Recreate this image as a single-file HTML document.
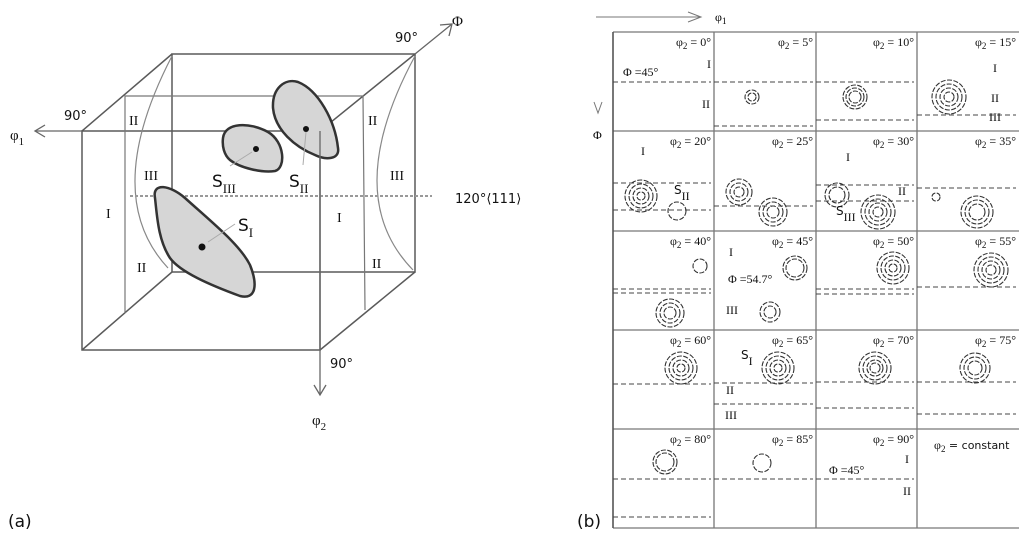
<!DOCTYPE html>
<html><head><meta charset="utf-8"><style>
html,body{margin:0;padding:0;background:#fff}
svg{display:block;font-family:"Liberation Serif",serif}
.s{font-family:"DejaVu Sans","Liberation Sans",sans-serif}
</style></head><body>
<svg id="fig" width="1029" height="534" viewBox="0 0 1029 534" xmlns="http://www.w3.org/2000/svg">
<g id="cube" stroke="#5a5a5a" stroke-width="1.5" fill="none">
  <rect x="82" y="131" width="238" height="219"/>
  <polyline points="172,272 172,54 415,54 415,272 172,272"/>
  <line x1="82" y1="131" x2="172" y2="54"/><line x1="82" y1="350" x2="172" y2="272"/>
  <line x1="320" y1="350" x2="415" y2="272"/><line x1="320" y1="131" x2="415" y2="54"/>
  <polyline points="125,313 125,96 363,96 365,310" stroke="#777" stroke-width="1.2"/>
  <path d="M172,56 Q100,195 168,268" stroke="#888" stroke-width="1.2"/>
  <path d="M415,56 Q340,195 413,270" stroke="#888" stroke-width="1.2"/>
  <line x1="130" y1="196" x2="432" y2="196" stroke="#999" stroke-dasharray="3,2" stroke-width="2"/>
</g>
<g stroke="#333" stroke-width="2.5" fill="#d6d6d6">
  <path d="M155,198 C152,182 170,185 185,198 C215,225 240,245 250,265 C258,285 256,300 240,296 C210,285 180,272 170,258 C158,240 157,215 155,198Z"/>
  <path d="M223,138 C225,122 250,122 268,132 C285,142 286,168 275,171 C262,173 240,168 230,160 C224,155 222,146 223,138Z"/>
  <path d="M273,108 C272,88 285,78 298,82 C318,90 335,120 338,148 C340,160 325,160 315,155 C295,147 275,130 273,108Z"/>
</g>
<g fill="#111"><circle cx="202" cy="247" r="3.5"/><circle cx="256" cy="149" r="3"/><circle cx="306" cy="129" r="3"/></g>
<g stroke="#aaa" stroke-width="1" fill="none"><line x1="208" y1="242" x2="235" y2="224"/><line x1="252" y1="152" x2="230" y2="166"/><line x1="306" y1="132" x2="303" y2="165"/></g>
<g stroke="#666" stroke-width="1.3" fill="none">
  <line x1="82" y1="131" x2="35" y2="131"/><polyline points="45,125 35,131 45,137"/>
  <line x1="320" y1="131" x2="320" y2="395"/><polyline points="314,385 320,395 326,385"/>
  <line x1="415" y1="54" x2="452" y2="24"/><polyline points="440,25 452,24 449,36"/>
</g>
<g font-size="15" fill="#111">
  <text x="10" y="140">φ<tspan font-size="11" dy="5">1</tspan></text>
  <text x="312" y="425">φ<tspan font-size="11" dy="5">2</tspan></text>
  <text x="452" y="26">Φ</text>
  <text class="s" x="64" y="120" font-size="13">90°</text>
  <text class="s" x="395" y="42" font-size="13">90°</text>
  <text class="s" x="330" y="368" font-size="13">90°</text>
  <text class="s" x="455" y="203" font-size="13">120°⟨111⟩</text>
  <text x="129" y="125" font-size="14">II</text><text x="144" y="180" font-size="14">III</text><text x="106" y="218" font-size="14">I</text><text x="137" y="272" font-size="14">II</text>
  <text x="368" y="125" font-size="14">II</text><text x="390" y="180" font-size="14">III</text><text x="337" y="222" font-size="14">I</text><text x="372" y="268" font-size="14">II</text>
  <g class="s" font-size="17"><text x="238" y="231">S<tspan font-family="Liberation Serif" font-size="13" dy="6">I</tspan></text>
  <text x="212" y="187">S<tspan font-family="Liberation Serif" font-size="13" dy="6">III</tspan></text>
  <text x="289" y="187">S<tspan font-family="Liberation Serif" font-size="13" dy="6">II</tspan></text></g>
  <text class="s" x="8" y="527" font-size="17">(a)</text>
  <text class="s" x="577" y="527" font-size="17">(b)</text>
</g>
<g stroke="#777" fill="none" stroke-width="1"><line x1="596" y1="17" x2="700" y2="17"/><polyline points="688,12 701,17 688,22"/><polyline points="594,102 598,113 602,102"/></g>
<text x="715" y="21" font-size="12">φ<tspan font-size="9" dy="3">1</tspan></text>
<text x="593" y="139" font-size="12">Φ</text>
<g id="grid"></g>
</svg>
<script>
var labels=["0°","5°","10°","15°","20°","25°","30°","35°","40°","45°","50°","55°","60°","65°","70°","75°","80°","85°","90°"];
var colX=[613,714,816,917,1019], rowY=[32,131,231,330,429,528];
var circles=[[752,97,[7,4]],[855,97,[12,9,6]],[949,97,[17,13,9,5]],[641,196,[16,12,8,4]],[677,211,[9]],[739,192,[13,9,5]],[773,212,[14,10,6]],[837,195,[12,8]],[878,212,[17,13,9,5]],[936,197,[4]],[977,212,[16,12,8]],[700,266,[7]],[670,313,[14,10,6]],[795,268,[12,9]],[770,312,[10,6]],[893,268,[16,12,8,4]],[991,270,[17,13,9,5]],[681,368,[16,12,8,4]],[778,368,[16,12,8,4]],[875,368,[16,12,8,5]],[975,368,[15,11,7]],[665,462,[12,9]],[762,463,[9]]];
var dashes=[[613,714,82],[714,816,82],[714,816,126],[816,917,82],[816,917,120],[917,1019,115],[613,714,183],[613,714,210],[714,816,206],[816,917,185],[816,917,201],[917,1019,188],[613,714,289],[613,714,293],[816,917,289],[816,917,294],[917,1019,287],[613,714,384],[714,816,383],[714,816,404],[816,917,382],[816,917,408],[917,1019,382],[917,1019,414],[613,714,479],[613,714,517],[714,816,479],[816,917,479]];
var texts=[[707,68,"I"],[623,76,"Φ =45°"],[702,108,"II"],[993,72,"I"],[991,102,"II"],[989,121,"III"],[641,155,"I"],[898,195,"II"],[846,161,"I"],[729,256,"I"],[728,283,"Φ =54.7°"],[726,314,"III"],[726,394,"II"],[725,419,"III"],[905,463,"I"],[829,474,"Φ =45°"],[903,495,"II"]];
var NS="http://www.w3.org/2000/svg";
var g=document.getElementById('grid');
function mk(t,a){var e=document.createElementNS(NS,t);for(var k in a)e.setAttribute(k,a[k]);g.appendChild(e);return e;}
var e;
for(var i=1;i<4;i++){e=mk('line',{x1:colX[i],y1:rowY[0],x2:colX[i],y2:rowY[5],stroke:'#777','stroke-width':1.3});

}
for(var j=0;j<6;j++){e=mk('line',{x1:colX[0],y1:rowY[j],x2:colX[4],y2:rowY[j],stroke:'#777','stroke-width':1.3});

}
e=mk('line',{x1:colX[0],y1:rowY[0],x2:colX[0],y2:rowY[5],stroke:'#555','stroke-width':1.6});


labels.forEach(function(l,k){var c=k%4,r=Math.floor(k/4);
 e=mk('text',{x:colX[c+1]-3,y:rowY[r]+14,'font-size':12,'text-anchor':'end',fill:'#111'});
 
 
 e.innerHTML='φ<tspan font-size="9" dy="3">2</tspan><tspan dy="-3"> = '+l+'</tspan>';});
e=mk('text',{x:934,y:449,'font-size':12,fill:'#111'});


e.innerHTML='φ<tspan font-size="9" dy="3">2</tspan><tspan dy="-3" font-family="DejaVu Sans" font-size="11">  = constant</tspan>';
dashes.forEach(function(d){e=mk('line',{x1:d[0],y1:d[2],x2:d[1]-3,y2:d[2],stroke:'#444','stroke-width':1,'stroke-dasharray':'5,3'});

});
circles.forEach(function(c){c[2].forEach(function(r){e=mk('circle',{cx:c[0],cy:c[1],r:r,fill:'none',stroke:'#333','stroke-width':1.1,'stroke-dasharray':'5,1.5'});

});});
texts.forEach(function(t){e=mk('text',{x:t[0],y:t[1],'font-size':12,fill:'#111'});


e.textContent=t[2];});
[[674,199,"II"],[836,220,"III"],[741,364,"I"]].forEach(function(t){e=mk('text',{x:t[0],y:t[1],'font-size':12,fill:'#111'});


e.innerHTML='<tspan font-family="DejaVu Sans" dy="-5">S</tspan><tspan dy="6">'+t[2]+'</tspan>';});
</script>
</body></html>
